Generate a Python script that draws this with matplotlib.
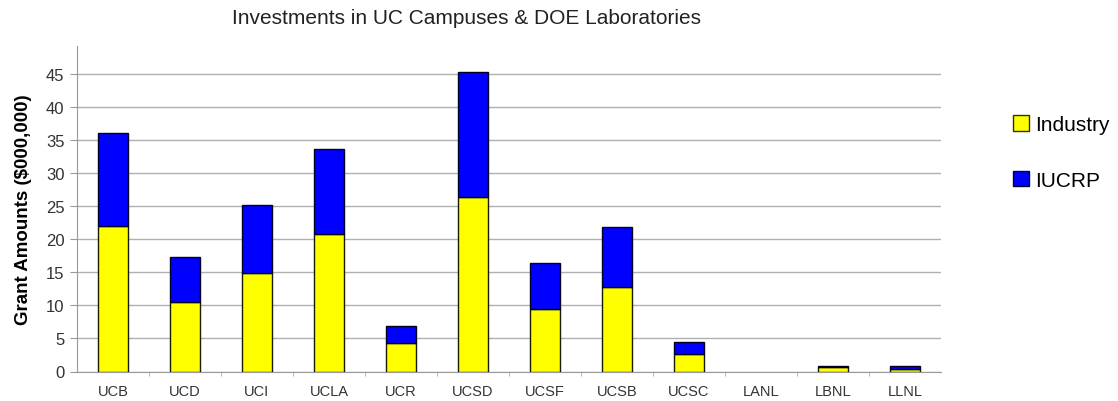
import matplotlib
matplotlib.use("Agg")
import matplotlib.pyplot as plt
from matplotlib.patches import Patch
import numpy as np

plt.rcParams['font.family'] = ['Liberation Sans', 'DejaVu Sans']

categories = ["UCB", "UCD", "UCI", "UCLA", "UCR", "UCSD", "UCSF", "UCSB", "UCSC", "LANL", "LBNL", "LLNL"]
industry = [22.1, 10.6, 14.9, 20.8, 4.3, 26.5, 9.5, 12.75, 2.65, 0.0, 0.65, 0.45]
iucrp = [14.0, 6.8, 10.3, 12.9, 2.55, 18.8, 6.9, 9.15, 1.75, 0.0, 0.2, 0.4]
yticks = [0, 5, 10, 15, 20, 25, 30, 35, 40, 45]

fig = plt.figure(figsize=(11.18, 4.02), dpi=100)
ax = fig.add_axes([77 / 1118, 1 - 372.5 / 402, (941 - 77) / 1118, (372.5 - 47) / 402])

x = np.arange(len(categories))
w = 0.42
lw_ind = [1.0 if v > 0 else 0.0 for v in industry]
lw_iu = [1.0 if v > 0 else 0.0 for v in iucrp]
ax.bar(x, industry, width=w, color='#ffff00', edgecolor='#1a1a00', linewidth=lw_ind, zorder=3)
ax.bar(x, iucrp, width=w, bottom=industry, color='#0000ff', edgecolor='#000022', linewidth=lw_iu, zorder=3)

ax.set_xlim(-0.5, len(categories) - 0.5)
ax.set_ylim(0, 49.3)
ax.set_yticks(yticks)
ax.set_xticks(x)
ax.set_xticklabels(categories, fontsize=10.5, color='#333333')
ax.tick_params(axis='y', labelsize=12, labelcolor='#333333', length=5, color='#999999', pad=4)
ax.tick_params(axis='x', length=0, pad=9)
ax.set_xticks(np.arange(0.5, len(categories) - 0.5, 1), minor=True)
ax.tick_params(axis='x', which='minor', length=3, color='#aaaaaa', direction='out')
ax.yaxis.grid(True, color='#b0b0b0', linewidth=1.0, zorder=0)
ax.set_axisbelow(True)
for s in ['top', 'right']:
    ax.spines[s].set_visible(False)
ax.spines['left'].set_color('#999999')
ax.spines['bottom'].set_color('#999999')

ax.set_ylabel('Grant Amounts ($000,000)', fontsize=13.5, fontweight='bold', labelpad=10)
fig.text(466 / 1118, 1 - 19 / 402, 'Investments in UC Campuses & DOE Laboratories',
         ha='center', va='center', fontsize=15, color='#222222')

handles = [Patch(facecolor='#ffff00', edgecolor='#333300', label='Industry'),
           Patch(facecolor='#0000ff', edgecolor='#000033', label='IUCRP')]
fig.legend(handles=handles, loc='center left', bbox_to_anchor=(1013 / 1118, 1 - 153.5 / 402),
           frameon=False, borderpad=0, borderaxespad=0, fontsize=15, labelspacing=1.74,
           handlelength=0.75, handleheight=0.75, handletextpad=0.3)

fig.savefig('out.png', dpi=100)
